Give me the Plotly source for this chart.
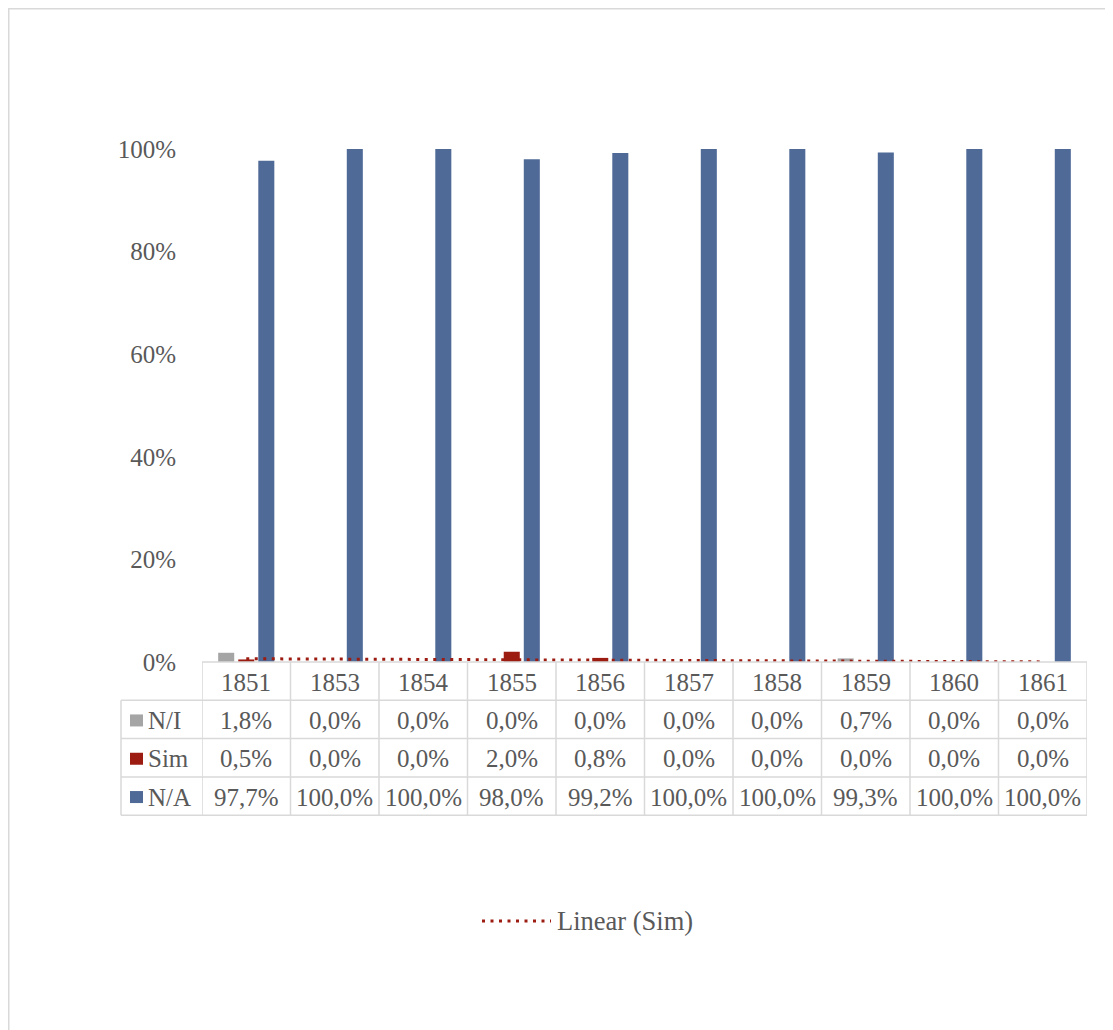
import numpy as np
import plotly.graph_objects as go

years = ["1851", "1853", "1854", "1855", "1856", "1857", "1858", "1859", "1860", "1861"]
ni = [1.8, 0.0, 0.0, 0.0, 0.0, 0.0, 0.0, 0.7, 0.0, 0.0]
sim = [0.5, 0.0, 0.0, 2.0, 0.8, 0.0, 0.0, 0.0, 0.0, 0.0]
na = [97.7, 100.0, 100.0, 98.0, 99.2, 100.0, 100.0, 99.3, 100.0, 100.0]
series_names = ["N/I", "Sim", "N/A"]
series_vals = [ni, sim, na]
colors = ["#a5a5a5", "#9c1c12", "#4f6a97"]
trend_color = "#9c1c12"

OFF = 8  # page body margin
PAGE_W, PAGE_H = 1113, 1030
W, H = PAGE_W - OFF, PAGE_H - OFF
# plot area in page pixels
PL, PR, PT, PB = 202, 1087, 149, 662
L, T = PL - OFF, PT - OFF
R = W - (PR - OFF)
B = H - (PB - OFF)
PW, PH = W - L - R, H - T - B
FONT = "Liberation Serif"
TXT = "#595959"
GRID = "#d9d9d9"
FS = 25
LEG_FS = 26.5
DOT = "3px,5.5px"


def px_x(x):
    # page pixel -> paper x
    return (x - OFF - L) / PW


def px_y(y):
    # page pixel -> paper y
    return (H - B - (y - OFF)) / PH


fig = go.Figure()
for name, vals, c in zip(series_names, series_vals, colors):
    fig.add_trace(go.Bar(x=years, y=[v / 100 for v in vals], name=name,
                         marker=dict(color=c, line=dict(width=0)), showlegend=False))

# Linear trendline for Sim (least squares fit, like Excel's "Linear" trendline)
idx = np.arange(len(years))
slope, intercept = np.polyfit(idx, np.array(sim) / 100, 1)
trend = slope * idx + intercept
fig.add_trace(go.Scatter(x=years, y=trend, mode="lines", name="Linear (Sim)",
                         line=dict(color=trend_color, width=3, dash=DOT),
                         showlegend=False))

shapes = []
annotations = []

# Data table geometry (page pixels)
row_top = PB
row_h = 38.3
table_left = 121
n_rows = 4
line = dict(color=GRID, width=1.5)

for r in range(n_rows + 1):
    y = px_y(row_top + r * row_h)
    x0 = 0 if r == 0 else px_x(table_left)
    shapes.append(dict(type="line", xref="paper", yref="paper", x0=x0, x1=1, y0=y, y1=y, line=line))
for k in range(len(years) + 1):
    shapes.append(dict(type="line", xref="x", yref="paper", x0=k - 0.5, x1=k - 0.5,
                       y0=px_y(row_top), y1=px_y(row_top + n_rows * row_h), line=line))
shapes.append(dict(type="line", xref="paper", yref="paper", x0=px_x(table_left), x1=px_x(table_left),
                   y0=px_y(row_top + row_h), y1=px_y(row_top + n_rows * row_h), line=line))

# header row: years
for i, yr in enumerate(years):
    annotations.append(dict(x=i, xref="x", y=px_y(row_top + row_h / 2 + 1), yref="paper",
                            text=yr, showarrow=False, xanchor="center", yanchor="middle",
                            font=dict(family=FONT, size=FS, color=TXT)))

# series rows
for r, (name, vals, c) in enumerate(zip(series_names, series_vals, colors)):
    yc = row_top + (r + 1.5) * row_h
    shapes.append(dict(type="rect", xref="paper", yref="paper", x0=px_x(130), x1=px_x(143),
                       y0=px_y(yc - 5), y1=px_y(yc + 7), fillcolor=c, line=dict(width=0)))
    annotations.append(dict(x=px_x(146), xref="paper", y=px_y(yc + 1), yref="paper", text=name,
                            showarrow=False, xanchor="left", yanchor="middle",
                            font=dict(family=FONT, size=FS, color=TXT)))
    for i, v in enumerate(vals):
        annotations.append(dict(x=i, xref="x", y=px_y(yc + 1), yref="paper",
                                text=f"{v:.1f}%".replace(".", ","), showarrow=False,
                                xanchor="center", yanchor="middle",
                                font=dict(family=FONT, size=FS, color=TXT)))

# legend (manual) for trendline
shapes.append(dict(type="line", xref="paper", yref="paper", x0=px_x(482), x1=px_x(551),
                   y0=px_y(921), y1=px_y(921), line=dict(color=trend_color, width=3, dash=DOT)))
annotations.append(dict(x=px_x(555), xref="paper", y=px_y(921), yref="paper", text="Linear (Sim)",
                        showarrow=False, xanchor="left", yanchor="middle",
                        font=dict(family=FONT, size=LEG_FS, color=TXT)))

# outer chart border
shapes.append(dict(type="rect", xref="paper", yref="paper", x0=px_x(OFF + 0.75), x1=px_x(PAGE_W + 20),
                   y0=px_y(PAGE_H + 20), y1=px_y(OFF + 0.75), line=dict(color=GRID, width=1.5),
                   layer="below"))

fig.update_layout(
    width=W, height=H,
    margin=dict(l=L, r=R, t=T, b=B, pad=0),
    paper_bgcolor="white", plot_bgcolor="white",
    barmode="group", bargap=0.32, bargroupgap=0.2,
    shapes=shapes, annotations=annotations,
    showlegend=False,
    font=dict(family=FONT, size=FS, color=TXT),
)
fig.update_xaxes(type="category", categoryorder="array", categoryarray=years,
                 range=[-0.5, len(years) - 0.5], showticklabels=False, showgrid=False,
                 zeroline=False, showline=False, ticks="")
fig.update_yaxes(range=[0, 1], tickformat=".0%", dtick=0.2, tick0=0, showgrid=False,
                 zeroline=False, showline=False, ticks="", ticklabelstandoff=25,
                 tickfont=dict(family=FONT, size=FS, color=TXT))

fig.write_html("out.html")
